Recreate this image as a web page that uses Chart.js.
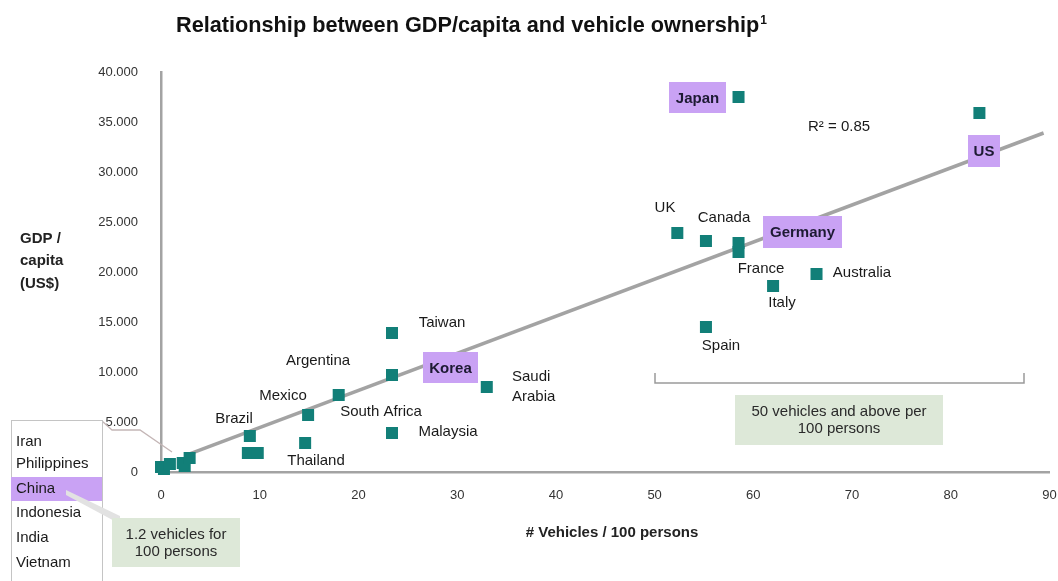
<!DOCTYPE html>
<html lang="en">
<head>
    <meta charset="utf-8"/>
    <title>GDP per capita vs vehicle ownership</title>
    <script src="https://cdn.jsdelivr.net/npm/chart.js"></script>
    <style>
        html, body { margin: 0; padding: 0; background: #fff; }
        canvas { display: block; }
    </style>
</head>
<body>
    <canvas id="myChart" width="1058" height="581"></canvas>
    <script>
        // vehicles per 100 persons (x) and GDP per capita in US$ (y)
        const countries = ['Vietnam', 'India', 'Indonesia', 'China', 'Philippines', 'Iran',
            'Brazil', '(unlabelled)', '(unlabelled)', 'Thailand', 'Mexico', 'South Africa',
            'Malaysia', 'Argentina', 'Taiwan', 'Korea', 'Saudi Arabia', 'Spain', 'UK',
            'Canada', 'France', 'Germany', 'Japan', 'Italy', 'Australia', 'US'];
        const vehicles = [0.0, 0.3, 0.9, 2.4, 2.2, 2.9,
            9.0, 8.8, 9.8, 14.6, 14.9, 18.0,
            23.4, 23.4, 23.4, 29.4, 33.0, 55.2, 52.3,
            55.2, 58.5, 58.5, 58.5, 62.0, 66.4, 82.9];
        const gdp = [500, 300, 800, 600, 900, 1400,
            3600, 1900, 1900, 2900, 5700, 7700,
            3900, 9700, 13900, 10500, 8500, 14500, 23900,
            23100, 22000, 22900, 37500, 18600, 19800, 35900];

        // fitted trend line (R² = 0.85)
        const trendX = [2.5, 89.4];
        const trendY = [1670, 33900];

        const xTicks = [0, 10, 20, 30, 40, 50, 60, 70, 80, 90];
        const yTicks = [0, 5000, 10000, 15000, 20000, 25000, 30000, 35000, 40000];

        const smallList = ['Iran', 'Philippines', 'China', 'Indonesia', 'India', 'Vietnam'];

        const FONT = 'Liberation Sans, Arial, sans-serif';
        const PURPLE = '#c9a2f4';
        const GREEN = '#dde8d8';

        function dotted(v) {
            return String(v).replace(/\B(?=(\d{3})+(?!\d))/g, '.');
        }

        const annotations = {
            id: 'annotations',
            afterDraw(chart) {
                const ctx = chart.ctx;
                ctx.save();

                // title
                ctx.fillStyle = '#111';
                ctx.textBaseline = 'alphabetic';
                ctx.textAlign = 'left';
                ctx.font = 'bold 21.7px ' + FONT;
                const title = 'Relationship between GDP/capita and vehicle ownership';
                ctx.fillText(title, 176, 32);
                const tw = ctx.measureText(title).width;
                ctx.font = 'bold 12px ' + FONT;
                ctx.fillText('1', 176 + tw + 1, 24);

                // y axis title
                ctx.font = 'bold 15px ' + FONT;
                ctx.textBaseline = 'middle';
                ctx.fillStyle = '#222';
                ctx.fillText('GDP /', 20, 239);
                ctx.fillText('capita', 20, 261);
                ctx.fillText('(US$)', 20, 284);

                // x axis title
                ctx.textAlign = 'center';
                ctx.fillText('# Vehicles / 100 persons', 612, 533);

                // plain country labels
                ctx.font = '15px ' + FONT;
                ctx.fillStyle = '#1a1a1a';
                const plain = [
                    ['UK', 665, 208], ['Canada', 724, 218], ['France', 761, 269],
                    ['Australia', 862, 273], ['Italy', 782, 303], ['Spain', 721, 346],
                    ['Taiwan', 442, 323], ['Argentina', 318, 361], ['Mexico', 283, 396],
                    ['South Africa', 381, 412], ['Malaysia', 448, 432], ['Brazil', 234, 419],
                    ['Thailand', 316, 461]
                ];
                plain.forEach(function (p) { ctx.fillText(p[0], p[1], p[2]); });
                ctx.textAlign = 'left';
                ctx.fillText('Saudi', 512, 377);
                ctx.fillText('Arabia', 512, 397);
                ctx.fillText('R\u00B2 = 0.85', 808, 127);

                // highlighted labels
                const boxes = [
                    ['Japan', 669, 82, 57, 31], ['US', 968, 135, 32, 32],
                    ['Germany', 763, 216, 79, 32], ['Korea', 423, 352, 55, 31]
                ];
                ctx.textAlign = 'center';
                ctx.font = 'bold 15px ' + FONT;
                boxes.forEach(function (b) {
                    ctx.fillStyle = PURPLE;
                    ctx.fillRect(b[1], b[2], b[3], b[4]);
                    ctx.fillStyle = '#1d1a33';
                    ctx.fillText(b[0], b[1] + b[3] / 2, b[2] + b[4] / 2 + 1);
                });

                // bracket for 50+ vehicles
                ctx.strokeStyle = '#9a9a9a';
                ctx.lineWidth = 1.5;
                ctx.beginPath();
                ctx.moveTo(655, 373);
                ctx.lineTo(655, 383);
                ctx.lineTo(1024, 383);
                ctx.lineTo(1024, 373);
                ctx.stroke();

                ctx.fillStyle = GREEN;
                ctx.fillRect(735, 395, 208, 50);
                ctx.fillStyle = '#2a2a2a';
                ctx.font = '15px ' + FONT;
                ctx.fillText('50 vehicles and above per', 839, 412);
                ctx.fillText('100 persons', 839, 429);

                // pointer from the small-country list to the cluster
                ctx.strokeStyle = '#c4b6b6';
                ctx.lineWidth = 1.3;
                ctx.beginPath();
                ctx.moveTo(102, 421);
                ctx.lineTo(112, 430);
                ctx.lineTo(140, 430);
                ctx.lineTo(172, 452);
                ctx.stroke();

                // list box
                ctx.fillStyle = '#fff';
                ctx.fillRect(11, 420, 91, 165);
                ctx.strokeStyle = '#c4c4c4';
                ctx.lineWidth = 1;
                ctx.strokeRect(11.5, 420.5, 91, 170);
                ctx.fillStyle = PURPLE;
                ctx.fillRect(11, 477, 91, 24);

                // callout wedge from China to note
                ctx.fillStyle = '#e2e2e2';
                ctx.beginPath();
                ctx.moveTo(66, 490);
                ctx.lineTo(120, 516);
                ctx.lineTo(120, 524);
                ctx.lineTo(66, 495);
                ctx.closePath();
                ctx.fill();

                ctx.textAlign = 'left';
                ctx.fillStyle = '#1a1a1a';
                const ys = [442, 464, 489, 513, 538, 563];
                smallList.forEach(function (n, i) { ctx.fillText(n, 16, ys[i]); });

                ctx.fillStyle = GREEN;
                ctx.fillRect(112, 518, 128, 49);
                ctx.fillStyle = '#2a2a2a';
                ctx.textAlign = 'center';
                ctx.fillText('1.2 vehicles for', 176, 535);
                ctx.fillText('100 persons', 176, 552);

                ctx.restore();
            }
        };

        const ctx = document.getElementById('myChart');
        const chart = new Chart(ctx, {
            type: 'scatter',
            data: {
                datasets: [
                    {
                        label: 'Countries',
                        data: vehicles.map(function (v, i) { return { x: v, y: gdp[i], name: countries[i] }; }),
                        pointStyle: 'rect',
                        pointRadius: 8.5,
                        pointBorderWidth: 0,
                        backgroundColor: '#127f78',
                        clip: false,
                        order: 0
                    },
                    {
                        label: 'Trend',
                        data: trendX.map(function (v, i) { return { x: v, y: trendY[i] }; }),
                        showLine: true,
                        borderColor: '#a3a3a3',
                        borderWidth: 3.5,
                        pointRadius: 0,
                        order: 1
                    }
                ]
            },
            options: {
                responsive: false,
                animation: false,
                layout: { padding: { left: 0, right: 0, top: 72, bottom: 0 } },
                plugins: {
                    legend: { display: false },
                    tooltip: { enabled: false }
                },
                scales: {
                    x: {
                        type: 'linear',
                        min: 0,
                        max: 90,
                        afterBuildTicks: function (s) { s.ticks = xTicks.map(function (v) { return { value: v }; }); },
                        afterFit: function (s) {
                            s.height = 109;
                            s.paddingLeft = 0;
                            s.paddingRight = 8;
                        },
                        grid: { display: false, drawTicks: false },
                        border: { display: true, color: '#a3a3a3', width: 2.5 },
                        ticks: {
                            padding: 16,
                            color: '#333',
                            font: { family: FONT, size: 13 }
                        }
                    },
                    y: {
                        type: 'linear',
                        min: 0,
                        max: 40000,
                        afterBuildTicks: function (s) { s.ticks = yTicks.map(function (v) { return { value: v }; }); },
                        afterFit: function (s) { s.width = 161; },
                        grid: { display: false, drawTicks: false },
                        border: { display: true, color: '#a3a3a3', width: 2.5 },
                        ticks: {
                            padding: 23,
                            color: '#333',
                            font: { family: FONT, size: 13 },
                            callback: function (v) { return dotted(v); }
                        }
                    }
                }
            },
            plugins: [annotations]
        });
    </script>
</body>
</html>
